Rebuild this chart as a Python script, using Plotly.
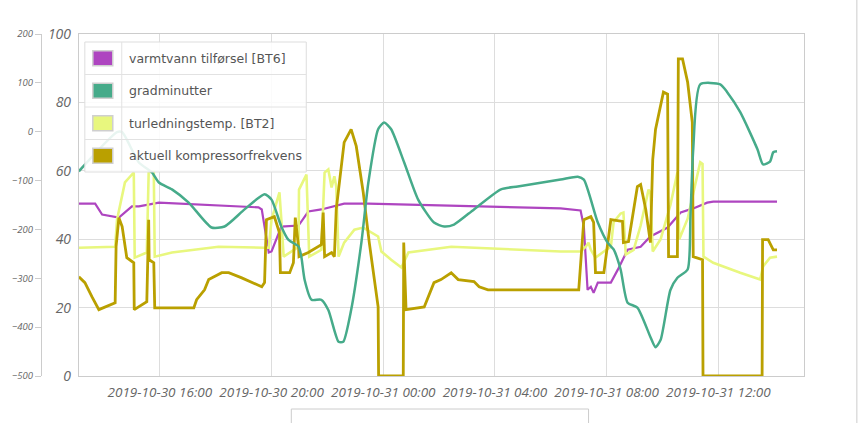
import plotly.graph_objects as go

# ---------------- data ----------------
series_names = ["varmtvann tilførsel [BT6]", "gradminutter",
                "turledningstemp. [BT2]", "aktuell kompressorfrekvens"]
series_colors = ["#AE45C0", "#46AB8A", "#E8F77E", "#BAA000"]

bt6_time = ["2019-10-30 13:06", "2019-10-30 13:41", "2019-10-30 13:56", "2019-10-30 14:32",
            "2019-10-30 15:00", "2019-10-30 15:15", "2019-10-30 15:58", "2019-10-30 17:45",
            "2019-10-30 19:32", "2019-10-30 19:39", "2019-10-30 19:54", "2019-10-30 20:00",
            "2019-10-30 20:21", "2019-10-30 20:58", "2019-10-30 21:19", "2019-10-30 21:47",
            "2019-10-30 22:15", "2019-10-30 22:36", "2019-10-30 23:28", "2019-10-31 03:15",
            "2019-10-31 06:21", "2019-10-31 07:04", "2019-10-31 07:11", "2019-10-31 07:19",
            "2019-10-31 07:26", "2019-10-31 07:32", "2019-10-31 07:41", "2019-10-31 08:09",
            "2019-10-31 08:24", "2019-10-31 08:45", "2019-10-31 09:13", "2019-10-31 09:34",
            "2019-10-31 10:11", "2019-10-31 10:39", "2019-10-31 11:06", "2019-10-31 11:36",
            "2019-10-31 11:49", "2019-10-31 14:06"]
bt6_value = [50.4, 50.4, 47.2, 46.3, 49.6, 49.6, 50.7, 50.1, 49.3, 48.7, 36.1, 36.4,
             43.7, 44.0, 48.1, 48.7, 49.6, 50.4, 50.4, 49.6, 49.0, 48.4, 43.7, 25.2,
             26.1, 24.3, 27.3, 27.3, 31.1, 36.9, 37.8, 40.8, 43.4, 47.8, 49.0, 50.7,
             51.0, 51.0]

gm_time = ["2019-10-30 13:06", "2019-10-30 14:28", "2019-10-30 14:39", "2019-10-30 15:15",
           "2019-10-30 15:43", "2019-10-30 15:58", "2019-10-30 16:26", "2019-10-30 17:02",
           "2019-10-30 17:51", "2019-10-30 18:19", "2019-10-30 19:02", "2019-10-30 19:45",
           "2019-10-30 20:00", "2019-10-30 20:21", "2019-10-30 20:36", "2019-10-30 20:58",
           "2019-10-30 21:04", "2019-10-30 21:11", "2019-10-30 21:26", "2019-10-30 21:47",
           "2019-10-30 22:02", "2019-10-30 22:24", "2019-10-30 22:34", "2019-10-30 22:51",
           "2019-10-30 23:13", "2019-10-30 23:28", "2019-10-30 23:49", "2019-10-31 00:02",
           "2019-10-31 00:17", "2019-10-31 00:45", "2019-10-31 01:15", "2019-10-31 01:49",
           "2019-10-31 02:11", "2019-10-31 02:32", "2019-10-31 03:15", "2019-10-31 04:13",
           "2019-10-31 04:49", "2019-10-31 06:21", "2019-10-31 06:58", "2019-10-31 07:11",
           "2019-10-31 07:41", "2019-10-31 08:02", "2019-10-31 08:15", "2019-10-31 08:30",
           "2019-10-31 08:45", "2019-10-31 09:06", "2019-10-31 09:34", "2019-10-31 09:45",
           "2019-10-31 09:56", "2019-10-31 10:17", "2019-10-31 10:32", "2019-10-31 10:54",
           "2019-10-31 11:00", "2019-10-31 11:06", "2019-10-31 11:21", "2019-10-31 12:04",
           "2019-10-31 12:19", "2019-10-31 12:47", "2019-10-31 13:24", "2019-10-31 13:36",
           "2019-10-31 13:51", "2019-10-31 13:58", "2019-10-31 14:06"]
gm_value = [-81, -1, -1, -63, -83, -104, -118, -145, -196, -194, -159, -128,
            -139, -194, -221, -235, -256, -303, -344, -344, -365, -430, -430, -365,
            -227, -104, 5, 19, 5, -63, -139, -186, -194, -190, -159, -118,
            -112, -98, -92, -98, -186, -227, -241, -282, -350, -360, -420, -441,
            -426, -324, -299, -282, -174, -36, 97, 97, 81, 40, -36, -67,
            -61, -42, -40]

bt2_time = ["2019-10-30 13:06", "2019-10-30 14:24", "2019-10-30 14:28", "2019-10-30 14:45",
            "2019-10-30 15:04", "2019-10-30 15:06", "2019-10-30 15:32", "2019-10-30 15:36",
            "2019-10-30 15:47", "2019-10-30 15:49", "2019-10-30 16:26", "2019-10-30 18:06",
            "2019-10-30 19:45", "2019-10-30 19:54", "2019-10-30 20:00", "2019-10-30 20:17",
            "2019-10-30 20:21", "2019-10-30 20:26", "2019-10-30 20:58", "2019-10-30 20:59",
            "2019-10-30 21:15", "2019-10-30 21:21", "2019-10-30 21:47", "2019-10-30 21:54",
            "2019-10-30 22:02", "2019-10-30 22:09", "2019-10-30 22:15", "2019-10-30 22:19",
            "2019-10-30 22:24", "2019-10-30 22:36", "2019-10-30 22:58", "2019-10-30 23:17",
            "2019-10-30 23:49", "2019-10-30 23:56", "2019-10-31 00:17", "2019-10-31 00:39",
            "2019-10-31 00:54", "2019-10-31 02:26", "2019-10-31 06:21", "2019-10-31 07:04",
            "2019-10-31 07:15", "2019-10-31 07:21", "2019-10-31 07:26", "2019-10-31 07:36",
            "2019-10-31 07:54", "2019-10-31 08:09", "2019-10-31 08:15", "2019-10-31 08:30",
            "2019-10-31 08:36", "2019-10-31 08:41", "2019-10-31 08:58", "2019-10-31 09:13",
            "2019-10-31 09:30", "2019-10-31 09:34", "2019-10-31 09:39", "2019-10-31 09:56",
            "2019-10-31 10:17", "2019-10-31 10:32", "2019-10-31 10:36", "2019-10-31 10:54",
            "2019-10-31 11:21", "2019-10-31 11:26", "2019-10-31 11:28", "2019-10-31 11:49",
            "2019-10-31 12:47", "2019-10-31 13:30", "2019-10-31 13:36", "2019-10-31 13:51",
            "2019-10-31 14:06"]
bt2_value = [37.5, 37.8, 45.7, 56.6, 59.5, 34.6, 36.1, 59.5, 59.8, 34.9, 36.1, 37.8,
             37.5, 37.5, 45.7, 53.7, 45.7, 34.9, 37.8, 54.5, 58.9, 34.9, 36.9, 59.5,
             60.4, 55.1, 58.4, 55.4, 34.9, 39.0, 42.8, 43.4, 40.8, 36.4, 34.0, 31.7,
             36.1, 37.8, 36.4, 36.4, 37.8, 39.0, 36.9, 34.6, 36.4, 37.8, 45.0, 47.5,
             47.8, 35.5, 36.9, 44.0, 54.5, 53.7, 36.4, 40.0, 50.0, 59.5, 40.0, 46.0,
             62.5, 62.0, 34.9, 33.1, 30.2, 28.2, 32.0, 34.6, 34.9]

komp_time = ["2019-10-30 13:06", "2019-10-30 13:19", "2019-10-30 13:34", "2019-10-30 13:49",
             "2019-10-30 14:24", "2019-10-30 14:26", "2019-10-30 14:32", "2019-10-30 14:39",
             "2019-10-30 14:49", "2019-10-30 15:04", "2019-10-30 15:05", "2019-10-30 15:32",
             "2019-10-30 15:36", "2019-10-30 15:37", "2019-10-30 15:47", "2019-10-30 15:49",
             "2019-10-30 17:13", "2019-10-30 17:19", "2019-10-30 17:36", "2019-10-30 17:45",
             "2019-10-30 18:13", "2019-10-30 18:28", "2019-10-30 18:56", "2019-10-30 19:39",
             "2019-10-30 19:45", "2019-10-30 19:49", "2019-10-30 20:06", "2019-10-30 20:17",
             "2019-10-30 20:19", "2019-10-30 20:39", "2019-10-30 20:47", "2019-10-30 20:51",
             "2019-10-30 20:58", "2019-10-30 20:59", "2019-10-30 21:19", "2019-10-30 21:47",
             "2019-10-30 21:51", "2019-10-30 21:54", "2019-10-30 22:09", "2019-10-30 22:15",
             "2019-10-30 22:19", "2019-10-30 22:26", "2019-10-30 22:36", "2019-10-30 22:51",
             "2019-10-30 23:02", "2019-10-30 23:17", "2019-10-30 23:30", "2019-10-30 23:49",
             "2019-10-30 23:50", "2019-10-31 00:43", "2019-10-31 00:44", "2019-10-31 00:49",
             "2019-10-31 01:28", "2019-10-31 01:49", "2019-10-31 02:04", "2019-10-31 02:26",
             "2019-10-31 02:41", "2019-10-31 03:15", "2019-10-31 03:26", "2019-10-31 03:45",
             "2019-10-31 07:00", "2019-10-31 07:11", "2019-10-31 07:26", "2019-10-31 07:32",
             "2019-10-31 07:36", "2019-10-31 07:54", "2019-10-31 08:09", "2019-10-31 08:34",
             "2019-10-31 08:36", "2019-10-31 08:47", "2019-10-31 08:58", "2019-10-31 09:06",
             "2019-10-31 09:13", "2019-10-31 09:24", "2019-10-31 09:34", "2019-10-31 09:39",
             "2019-10-31 09:45", "2019-10-31 09:56", "2019-10-31 10:02", "2019-10-31 10:11",
             "2019-10-31 10:13", "2019-10-31 10:32", "2019-10-31 10:34", "2019-10-31 10:43",
             "2019-10-31 10:54", "2019-10-31 11:04", "2019-10-31 11:06", "2019-10-31 11:26",
             "2019-10-31 11:27", "2019-10-31 13:34", "2019-10-31 13:35", "2019-10-31 13:47",
             "2019-10-31 13:58", "2019-10-31 14:06"]
komp_value = [29.0, 27.3, 23.2, 19.4, 21.4, 37.8, 46.3, 43.7, 34.6, 33.1, 19.4, 21.7,
              45.7, 34.0, 33.1, 19.9, 19.9, 22.3, 25.2, 28.2, 30.2, 30.2, 28.7, 26.1,
              27.3, 45.7, 46.6, 41.9, 30.2, 30.2, 33.1, 46.3, 37.8, 34.9, 36.1, 38.4,
              47.8, 34.9, 36.1, 34.9, 48.7, 56.6, 68.3, 72.1, 67.2, 53.7, 39.0, 20.2,
              0, 0, 39.0, 19.4, 20.2, 27.3, 28.2, 30.2, 28.2, 27.6, 26.1, 25.2,
              25.2, 45.7, 46.6, 44.9, 30.2, 30.2, 45.7, 45.2, 39.0, 39.3, 48.7, 55.4,
              56.0, 48.7, 39.0, 63.3, 72.1, 78.9, 83.0, 82.4, 34.9, 34.9, 92.7, 92.7,
              85.9, 74.2, 34.9, 34.0, 0, 0, 39.9, 39.9, 36.9, 36.9]

x_range = ["2019-10-30 13:06", "2019-10-31 15:04"]
x_tick0 = "2019-10-30 16:00"
inner_ticks = [0, 20, 40, 60, 80, 100]
outer_ticks = [-500, -400, -300, -200, -100, 0, 100, 200]

# ---------------- layout helpers (pixels -> paper) ----------------
W, H = 865, 423
ML, MR, MT, MB = 20, 61, 34, 47
PW, PH = W - ML - MR, H - MT - MB
def pxx(x):
    return (x - ML) / PW
def pxy(y):
    return (H - MB - y) / PH

fig = go.Figure()
fig.add_trace(go.Scatter(x=bt6_time, y=bt6_value, name=series_names[0], mode="lines",
                         line=dict(color=series_colors[0], width=2.2), yaxis="y"))
fig.add_trace(go.Scatter(x=bt2_time, y=bt2_value, name=series_names[2], mode="lines",
                         line=dict(color=series_colors[2], width=2.6), yaxis="y"))
fig.add_trace(go.Scatter(x=komp_time, y=komp_value, name=series_names[3], mode="lines",
                         line=dict(color=series_colors[3], width=2.8), yaxis="y"))
fig.add_trace(go.Scatter(x=gm_time, y=gm_value, name=series_names[1], mode="lines",
                         line=dict(color=series_colors[1], width=2.5, shape="spline",
                                   smoothing=0.6), yaxis="y2"))

tickcol = "#666666"
fig.update_layout(
    width=W, height=H,
    margin=dict(l=ML, r=MR, t=MT, b=MB),
    paper_bgcolor="white", plot_bgcolor="white",
    showlegend=False, hovermode=False,
    xaxis=dict(domain=[pxx(77), 1], type="date", range=x_range,
               tick0=x_tick0, dtick=4 * 3600 * 1000, tickformat="%Y-%m-%d %H:%M",
               showgrid=True, gridcolor="#dddddd", gridwidth=1,
               showline=True, linecolor="#cccccc", mirror=True, zeroline=False,
               tickfont=dict(family="Open Sans", size=13.5, color=tickcol, style="italic"),
               ticks="", ticklabelstandoff=4),
    yaxis=dict(range=[0, 100], tickvals=inner_ticks, showgrid=True, gridcolor="#dddddd",
               showline=True, linecolor="#cccccc", mirror=True, zeroline=False,
               tickfont=dict(family="Open Sans", size=14, color=tickcol, style="italic"),
               ticks="", ticklabelstandoff=4),
    yaxis2=dict(range=[-500, 200], tickvals=outer_ticks, overlaying="y", side="left",
                anchor="free", position=pxx(39), showgrid=False, zeroline=False,
                showline=True, linecolor="#cccccc", ticks="outside", ticklen=6,
                tickcolor="#cccccc",
                tickfont=dict(family="Open Sans", size=9.5, color=tickcol, style="italic")),
)

# ---------------- table-like legend ----------------
shapes = []
annotations = []
lx0, lx1, ly0, ly1 = 83, 305, 42, 172
shapes.append(dict(type="rect", xref="paper", yref="paper",
                   x0=pxx(lx0), x1=pxx(lx1), y0=pxy(ly0), y1=pxy(ly1),
                   fillcolor="rgba(255,255,255,0.88)", line=dict(color="#dddddd", width=1)))
shapes.append(dict(type="line", xref="paper", yref="paper",
                   x0=pxx(120), x1=pxx(120), y0=pxy(ly0), y1=pxy(ly1),
                   line=dict(color="#e2e2e2", width=1)))
row_h = (ly1 - ly0) / len(series_names)
for i, (name, col) in enumerate(zip(series_names, series_colors)):
    top = ly0 + i * row_h
    cy = top + row_h / 2
    if i > 0:
        shapes.append(dict(type="line", xref="paper", yref="paper",
                           x0=pxx(lx0), x1=pxx(lx1), y0=pxy(top), y1=pxy(top),
                           line=dict(color="#e2e2e2", width=1)))
    shapes.append(dict(type="rect", xref="paper", yref="paper",
                       x0=pxx(91), x1=pxx(111), y0=pxy(cy - 7.5), y1=pxy(cy + 7.5),
                       fillcolor=col, line=dict(color="#cfcfcf", width=1.5)))
    annotations.append(dict(xref="paper", yref="paper", x=pxx(125), y=pxy(cy),
                            xanchor="left", yanchor="middle", showarrow=False, text=name,
                            font=dict(family="DejaVu Sans", size=12.5, color="#555555")))

# navigator frame at the bottom and container border on the right
shapes.append(dict(type="rect", xref="paper", yref="paper",
                   x0=pxx(290), x1=pxx(588), y0=pxy(409), y1=pxy(440),
                   line=dict(color="#cccccc", width=1), fillcolor="rgba(0,0,0,0)"))
shapes.append(dict(type="line", xref="paper", yref="paper",
                   x0=pxx(857), x1=pxx(857), y0=pxy(-5), y1=pxy(430),
                   line=dict(color="#cccccc", width=1)))

fig.update_layout(shapes=shapes, annotations=annotations)
fig.write_html("out.html", config={"displayModeBar": False})
